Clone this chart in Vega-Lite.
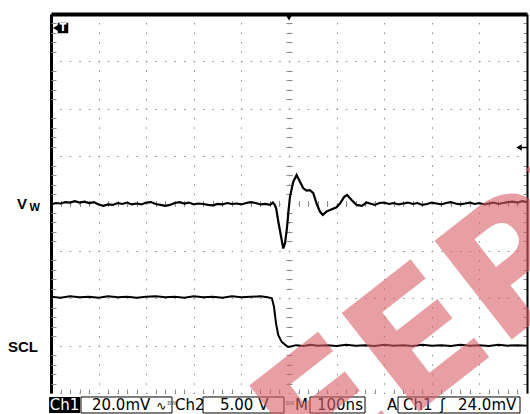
{
  "$schema": "https://vega.github.io/schema/vega-lite/v6.json",
  "width": 476,
  "height": 379,
  "autosize": {"type": "none"},
  "padding": {"left": 51, "top": 14, "right": 3, "bottom": 21},
  "background": "white",
  "config": {"view": {"stroke": null}},
  "datasets": {
    "vw": [
      {"t": -500, "v": -0.02}, {"t": -490, "v": 0.01}, {"t": -480, "v": 0.0}, {"t": -470, "v": 0.03}, {"t": -460, "v": 0.02},
      {"t": -450, "v": 0.05}, {"t": -440, "v": 0.02}, {"t": -430, "v": 0.04}, {"t": -420, "v": 0.01}, {"t": -410, "v": 0.03},
      {"t": -400, "v": -0.02}, {"t": -390, "v": -0.05}, {"t": -380, "v": -0.02}, {"t": -370, "v": -0.03}, {"t": -360, "v": 0.01},
      {"t": -350, "v": -0.01}, {"t": -340, "v": 0.02}, {"t": -330, "v": -0.02}, {"t": -320, "v": 0.0}, {"t": -310, "v": -0.02},
      {"t": -300, "v": 0.02}, {"t": -290, "v": 0.03}, {"t": -280, "v": -0.01}, {"t": -270, "v": -0.03}, {"t": -260, "v": -0.05},
      {"t": -250, "v": -0.03}, {"t": -240, "v": 0.01}, {"t": -230, "v": 0.03}, {"t": -220, "v": 0.0}, {"t": -210, "v": 0.02},
      {"t": -200, "v": -0.02}, {"t": -190, "v": 0.0}, {"t": -180, "v": -0.01}, {"t": -170, "v": -0.03}, {"t": -160, "v": -0.04},
      {"t": -150, "v": -0.01}, {"t": -140, "v": -0.02}, {"t": -130, "v": 0.01}, {"t": -120, "v": -0.01}, {"t": -110, "v": 0.0},
      {"t": -100, "v": -0.02}, {"t": -90, "v": 0.01}, {"t": -80, "v": 0.03}, {"t": -70, "v": 0.01}, {"t": -60, "v": -0.02},
      {"t": -50, "v": -0.01}, {"t": -40, "v": -0.03}, {"t": -34, "v": 0.02}, {"t": -30, "v": -0.03}, {"t": -27, "v": -0.1},
      {"t": -22.5, "v": -0.38}, {"t": -17.4, "v": -0.66}, {"t": -12, "v": -0.95}, {"t": -8.4, "v": -0.84}, {"t": -4.8, "v": -0.56},
      {"t": -2.7, "v": -0.35}, {"t": -1.5, "v": -0.2}, {"t": 2, "v": 0.14}, {"t": 9, "v": 0.46}, {"t": 16, "v": 0.6},
      {"t": 23, "v": 0.46}, {"t": 30, "v": 0.32}, {"t": 37, "v": 0.27}, {"t": 44, "v": 0.28}, {"t": 51, "v": 0.22},
      {"t": 58, "v": 0.0}, {"t": 65, "v": -0.17}, {"t": 71, "v": -0.24}, {"t": 79, "v": -0.17}, {"t": 90, "v": -0.12},
      {"t": 100, "v": -0.08}, {"t": 107, "v": 0.0}, {"t": 116, "v": 0.14}, {"t": 122, "v": 0.18}, {"t": 132, "v": 0.07},
      {"t": 142, "v": -0.03}, {"t": 153, "v": -0.05}, {"t": 163, "v": 0.02}, {"t": 170, "v": 0.0}, {"t": 180, "v": -0.03},
      {"t": 190, "v": 0.01}, {"t": 200, "v": 0.02}, {"t": 210, "v": -0.01}, {"t": 220, "v": 0.01}, {"t": 230, "v": -0.02},
      {"t": 240, "v": 0.0}, {"t": 250, "v": 0.02}, {"t": 260, "v": -0.01}, {"t": 270, "v": 0.01}, {"t": 280, "v": -0.03},
      {"t": 290, "v": -0.01}, {"t": 300, "v": 0.02}, {"t": 310, "v": 0.0}, {"t": 320, "v": -0.02}, {"t": 330, "v": 0.01},
      {"t": 340, "v": 0.03}, {"t": 350, "v": 0.0}, {"t": 360, "v": -0.02}, {"t": 370, "v": 0.0}, {"t": 380, "v": 0.02},
      {"t": 390, "v": -0.01}, {"t": 400, "v": 0.01}, {"t": 410, "v": -0.02}, {"t": 420, "v": 0.0}, {"t": 430, "v": 0.02},
      {"t": 440, "v": -0.01}, {"t": 450, "v": 0.01}, {"t": 460, "v": 0.03}, {"t": 470, "v": 0.04}, {"t": 480, "v": 0.02},
      {"t": 490, "v": 0.05}, {"t": 500, "v": 0.03}
    ],
    "scl": [
      {"t": -500, "v": -1.97}, {"t": -480, "v": -1.99}, {"t": -460, "v": -1.96}, {"t": -440, "v": -1.98}, {"t": -420, "v": -1.97},
      {"t": -400, "v": -1.99}, {"t": -380, "v": -1.96}, {"t": -360, "v": -1.98}, {"t": -340, "v": -1.97}, {"t": -320, "v": -1.99},
      {"t": -300, "v": -1.97}, {"t": -280, "v": -1.96}, {"t": -260, "v": -1.98}, {"t": -240, "v": -1.97}, {"t": -220, "v": -1.99},
      {"t": -200, "v": -1.96}, {"t": -180, "v": -1.98}, {"t": -160, "v": -1.97}, {"t": -140, "v": -1.99}, {"t": -120, "v": -1.96},
      {"t": -100, "v": -1.98}, {"t": -80, "v": -1.97}, {"t": -60, "v": -1.96}, {"t": -45, "v": -1.98}, {"t": -36, "v": -2.0},
      {"t": -31.5, "v": -2.18}, {"t": -27.3, "v": -2.53}, {"t": -22.5, "v": -2.78}, {"t": -15.3, "v": -2.92}, {"t": -8, "v": -2.98},
      {"t": -2, "v": -3.03}, {"t": 4, "v": -3.02}, {"t": 15, "v": -2.99}, {"t": 30, "v": -3.01}, {"t": 45, "v": -2.98},
      {"t": 60, "v": -3.0}, {"t": 80, "v": -2.99}, {"t": 100, "v": -3.01}, {"t": 120, "v": -2.98}, {"t": 140, "v": -3.0},
      {"t": 160, "v": -2.99}, {"t": 180, "v": -3.01}, {"t": 200, "v": -2.98}, {"t": 220, "v": -3.0}, {"t": 240, "v": -2.99},
      {"t": 260, "v": -3.01}, {"t": 280, "v": -2.98}, {"t": 300, "v": -3.0}, {"t": 320, "v": -2.99}, {"t": 340, "v": -3.01},
      {"t": 360, "v": -2.98}, {"t": 380, "v": -3.0}, {"t": 400, "v": -2.99}, {"t": 420, "v": -3.01}, {"t": 440, "v": -2.98},
      {"t": 460, "v": -3.0}, {"t": 480, "v": -2.99}, {"t": 500, "v": -3.0}
    ]
  },
  "resolve": {"axis": {"x": "independent", "y": "independent"}},
  "layer": [
    {
      "data": {"name": "vw"},
      "mark": {"type": "line", "color": "black", "strokeWidth": 2.2},
      "encoding": {
        "x": {"field": "t", "type": "quantitative",
          "scale": {"domain": [-500, 500], "nice": false, "zero": false},
          "axis": {"orient": "top", "values": [-500, -400, -300, -200, -100, 0, 100, 200, 300, 400, 500],
            "grid": true, "gridColor": "#8c8c8c", "gridDash": [1.5, 7.98], "gridDashOffset": 0.75, "gridWidth": 1,
            "domain": true, "domainColor": "black", "domainWidth": 4, "ticks": false, "labels": false, "title": null}},
        "y": {"field": "v", "type": "quantitative",
          "scale": {"domain": [-4, 4], "nice": false, "zero": false},
          "axis": {"orient": "left", "values": [-4, -3, -2, -1, 0, 1, 2, 3, 4],
            "grid": true, "gridColor": "#8c8c8c", "gridDash": [1.5, 8.02], "gridDashOffset": 0.75, "gridWidth": 1,
            "domain": true, "domainColor": "black", "domainWidth": 3, "ticks": false, "labels": false, "title": null}}
      }
    },
    {
      "data": {"name": "scl"},
      "mark": {"type": "line", "color": "black", "strokeWidth": 2},
      "encoding": {
        "x": {"field": "t", "type": "quantitative",
          "axis": {"orient": "bottom", "values": [-480, -460, -440, -420, -380, -360, -340, -320, -280, -260, -240, -220, -180, -160, -140, -120, -80, -60, -40, -20, 20, 40, 60, 80, 120, 140, 160, 180, 220, 240, 260, 280, 320, 340, 360, 380, 420, 440, 460, 480],
            "grid": false, "domain": false, "ticks": true, "tickSize": -4, "tickColor": "#8c8c8c", "tickWidth": 1, "labels": false, "title": null}},
        "y": {"field": "v", "type": "quantitative",
          "axis": {"orient": "right", "values": [-3.8, -3.6, -3.4, -3.2, -2.8, -2.6, -2.4, -2.2, -1.8, -1.6, -1.4, -1.2, -0.8, -0.6, -0.4, -0.2, 0.2, 0.4, 0.6, 0.8, 1.2, 1.4, 1.6, 1.8, 2.2, 2.4, 2.6, 2.8, 3.2, 3.4, 3.6, 3.8],
            "grid": false, "domain": true, "domainColor": "black", "domainWidth": 2, "ticks": true, "tickSize": -4, "tickColor": "#8c8c8c", "labels": false, "title": null}}
      }
    },
    {
      "data": {"values": [{}]},
      "mark": {"type": "point", "opacity": 0},
      "encoding": {
        "x": {"datum": 0, "axis": {"orient": "bottom", "offset": -186.5, "values": [-480, -460, -440, -420, -380, -360, -340, -320, -280, -260, -240, -220, -180, -160, -140, -120, -80, -60, -40, -20, 20, 40, 60, 80, 120, 140, 160, 180, 220, 240, 260, 280, 320, 340, 360, 380, 420, 440, 460, 480],
            "grid": false, "domain": false, "ticks": true, "tickSize": -6, "tickColor": "#8c8c8c", "tickWidth": 1, "labels": false, "title": null}},
        "y": {"datum": 0, "axis": {"orient": "left", "offset": -235, "values": [-3.8, -3.6, -3.4, -3.2, -2.8, -2.6, -2.4, -2.2, -1.8, -1.6, -1.4, -1.2, -0.8, -0.6, -0.4, -0.2, 0.2, 0.4, 0.6, 0.8, 1.2, 1.4, 1.6, 1.8, 2.2, 2.4, 2.6, 2.8, 3.2, 3.4, 3.6, 3.8],
            "grid": false, "domain": false, "ticks": true, "tickSize": -6, "tickColor": "#8c8c8c", "tickWidth": 1, "labels": false, "title": null}}
      }
    },
    {
      "data": {"values": [{}]},
      "mark": {"type": "point", "opacity": 0},
      "encoding": {
        "x": {"datum": 0, "axis": null},
        "y": {"datum": 0, "axis": {"orient": "left", "values": [-3.8, -3.6, -3.4, -3.2, -2.8, -2.6, -2.4, -2.2, -1.8, -1.6, -1.4, -1.2, -0.8, -0.6, -0.4, -0.2, 0.2, 0.4, 0.6, 0.8, 1.2, 1.4, 1.6, 1.8, 2.2, 2.4, 2.6, 2.8, 3.2, 3.4, 3.6, 3.8],
            "grid": false, "domain": false, "ticks": true, "tickSize": -5, "tickColor": "#8c8c8c", "tickWidth": 1, "labels": false, "title": null}}
      }
    },
    {
      "data": {"values": [{}]},
      "mark": {"type": "rect", "color": "black"},
      "encoding": {"x": {"datum": -504, "axis": null}, "x2": {"datum": -439}, "y": {"datum": -4.084, "axis": null}, "y2": {"datum": -4.422}}
    },
    {
      "data": {"values": [{}]},
      "mark": {"type": "rect", "fill": "white", "stroke": "black", "strokeWidth": 1},
      "encoding": {"x": {"datum": -437, "axis": null}, "x2": {"datum": -245.8}, "y": {"datum": -4.084, "axis": null}, "y2": {"datum": -4.422}}
    },
    {
      "data": {"values": [{}]},
      "mark": {"type": "rect", "fill": "white", "stroke": "black", "strokeWidth": 1},
      "encoding": {"x": {"datum": -180.7, "axis": null}, "x2": {"datum": -10.5}, "y": {"datum": -4.084, "axis": null}, "y2": {"datum": -4.422}}
    },
    {
      "data": {"values": [{}]},
      "mark": {"type": "rect", "fill": "white", "stroke": "black", "strokeWidth": 1},
      "encoding": {"x": {"datum": 44.1, "axis": null}, "x2": {"datum": 159.7}, "y": {"datum": -4.084, "axis": null}, "y2": {"datum": -4.422}}
    },
    {
      "data": {"values": [{}]},
      "mark": {"type": "rect", "fill": "white", "stroke": "black", "strokeWidth": 1},
      "encoding": {"x": {"datum": 229, "axis": null}, "x2": {"datum": 485.3}, "y": {"datum": -4.084, "axis": null}, "y2": {"datum": -4.422}}
    },
    {
      "data": {"values": [{"label": "Ch1"}]},
      "mark": {"type": "text", "color": "white", "font": "DejaVu Sans", "fontSize": 15, "align": "center", "baseline": "alphabetic"},
      "encoding": {"x": {"datum": -471.6, "axis": null}, "y": {"datum": -4.359, "axis": null}, "text": {"field": "label"}}
    },
    {
      "data": {"values": [{"label": "20.0mV"}]},
      "mark": {"type": "text", "color": "black", "font": "DejaVu Sans", "fontSize": 15, "align": "left", "baseline": "alphabetic"},
      "encoding": {"x": {"datum": -413.9, "axis": null}, "y": {"datum": -4.359, "axis": null}, "text": {"field": "label"}}
    },
    {
      "data": {"values": [{"label": "∿"}]},
      "mark": {"type": "text", "color": "black", "font": "DejaVu Sans", "fontSize": 12, "align": "left", "baseline": "alphabetic"},
      "encoding": {"x": {"datum": -279, "axis": null}, "y": {"datum": -4.359, "axis": null}, "text": {"field": "label"}}
    },
    {
      "data": {"values": [{"label": "BW"}]},
      "mark": {"type": "text", "color": "#555", "font": "DejaVu Sans", "fontSize": 5.5, "align": "left", "baseline": "alphabetic"},
      "encoding": {"x": {"datum": -256, "axis": null}, "y": {"datum": -4.253, "axis": null}, "text": {"field": "label"}}
    },
    {
      "data": {"values": [{"label": "Ch2"}]},
      "mark": {"type": "text", "color": "black", "font": "DejaVu Sans", "fontSize": 15, "align": "left", "baseline": "alphabetic"},
      "encoding": {"x": {"datum": -239.5, "axis": null}, "y": {"datum": -4.359, "axis": null}, "text": {"field": "label"}}
    },
    {
      "data": {"values": [{"label": "5.00 V"}]},
      "mark": {"type": "text", "color": "black", "font": "DejaVu Sans", "fontSize": 15, "align": "left", "baseline": "alphabetic"},
      "encoding": {"x": {"datum": -145, "axis": null}, "y": {"datum": -4.359, "axis": null}, "text": {"field": "label"}}
    },
    {
      "data": {"values": [{"label": "BW"}]},
      "mark": {"type": "text", "color": "#555", "font": "DejaVu Sans", "fontSize": 5.5, "align": "left", "baseline": "alphabetic"},
      "encoding": {"x": {"datum": -7.4, "axis": null}, "y": {"datum": -4.253, "axis": null}, "text": {"field": "label"}}
    },
    {
      "data": {"values": [{"label": "M"}]},
      "mark": {"type": "text", "color": "black", "font": "DejaVu Sans", "fontSize": 15, "align": "left", "baseline": "alphabetic"},
      "encoding": {"x": {"datum": 12.6, "axis": null}, "y": {"datum": -4.359, "axis": null}, "text": {"field": "label"}}
    },
    {
      "data": {"values": [{"label": "100ns"}]},
      "mark": {"type": "text", "color": "black", "font": "DejaVu Sans", "fontSize": 15, "align": "left", "baseline": "alphabetic"},
      "encoding": {"x": {"datum": 58.8, "axis": null}, "y": {"datum": -4.359, "axis": null}, "text": {"field": "label"}}
    },
    {
      "data": {"values": [{"label": "A"}]},
      "mark": {"type": "text", "color": "black", "font": "DejaVu Sans", "fontSize": 15, "align": "left", "baseline": "alphabetic"},
      "encoding": {"x": {"datum": 206, "axis": null}, "y": {"datum": -4.359, "axis": null}, "text": {"field": "label"}}
    },
    {
      "data": {"values": [{"label": "Ch1"}]},
      "mark": {"type": "text", "color": "black", "font": "DejaVu Sans", "fontSize": 15, "align": "left", "baseline": "alphabetic"},
      "encoding": {"x": {"datum": 239.5, "axis": null}, "y": {"datum": -4.359, "axis": null}, "text": {"field": "label"}}
    },
    {
      "data": {"values": [{"label": "ʃ"}]},
      "mark": {"type": "text", "color": "black", "font": "DejaVu Sans", "fontSize": 15, "align": "left", "baseline": "alphabetic"},
      "encoding": {"x": {"datum": 317.2, "axis": null}, "y": {"datum": -4.359, "axis": null}, "text": {"field": "label"}}
    },
    {
      "data": {"values": [{"label": "24.0mV"}]},
      "mark": {"type": "text", "color": "black", "font": "DejaVu Sans", "fontSize": 15, "align": "left", "baseline": "alphabetic"},
      "encoding": {"x": {"datum": 355, "axis": null}, "y": {"datum": -4.359, "axis": null}, "text": {"field": "label"}}
    },
    {
      "data": {"values": [{"label": "V"}]},
      "mark": {"type": "text", "color": "black", "font": "Liberation Sans", "fontWeight": "bold", "fontSize": 15, "align": "left", "baseline": "alphabetic"},
      "encoding": {"x": {"datum": -571.4, "axis": null}, "y": {"datum": -0.106, "axis": null}, "text": {"field": "label"}}
    },
    {
      "data": {"values": [{"label": "W"}]},
      "mark": {"type": "text", "color": "black", "font": "Liberation Sans", "fontWeight": "bold", "fontSize": 11, "align": "left", "baseline": "alphabetic"},
      "encoding": {"x": {"datum": -545.2, "axis": null}, "y": {"datum": -0.158, "axis": null}, "text": {"field": "label"}}
    },
    {
      "data": {"values": [{"label": "SCL"}]},
      "mark": {"type": "text", "color": "black", "font": "Liberation Sans", "fontWeight": "bold", "fontSize": 15, "align": "left", "baseline": "alphabetic"},
      "encoding": {"x": {"datum": -590.3, "axis": null}, "y": {"datum": -3.128, "axis": null}, "text": {"field": "label"}}
    },
    {
      "data": {"values": [{}]},
      "mark": {"type": "point", "shape": "square", "filled": true, "color": "black", "size": 110, "opacity": 1},
      "encoding": {"x": {"datum": -474.8, "axis": null}, "y": {"datum": 3.704, "axis": null}}
    },
    {
      "data": {"values": [{}]},
      "mark": {"type": "point", "shape": "triangle-left", "filled": true, "color": "black", "size": 50, "opacity": 1},
      "encoding": {"x": {"datum": -489.5, "axis": null}, "y": {"datum": 3.704, "axis": null}}
    },
    {
      "data": {"values": [{"label": "T"}]},
      "mark": {"type": "text", "color": "white", "font": "DejaVu Sans", "fontWeight": "bold", "fontSize": 10, "align": "center", "baseline": "middle"},
      "encoding": {"x": {"datum": -474.8, "axis": null}, "y": {"datum": 3.704, "axis": null}, "text": {"field": "label"}}
    },
    {
      "data": {"values": [{}]},
      "mark": {"type": "point", "shape": "triangle-down", "filled": true, "color": "black", "size": 50, "opacity": 1},
      "encoding": {"x": {"datum": 0, "axis": null}, "y": {"datum": 3.926, "axis": null}}
    },
    {
      "data": {"values": [{}]},
      "mark": {"type": "point", "shape": "triangle-left", "filled": true, "color": "black", "size": 40, "opacity": 1},
      "encoding": {"x": {"datum": 483.2, "axis": null}, "y": {"datum": 1.182, "axis": null}}
    },
    {
      "data": {"values": [{}]},
      "mark": {"type": "rule", "color": "black", "strokeWidth": 1.5},
      "encoding": {"x": {"datum": 483.2, "axis": null}, "x2": {"datum": 500}, "y": {"datum": 1.182, "axis": null}}
    },
    {
      "data": {"values": [{"label": "EEPW"}]},
      "mark": {"type": "text", "color": "#d96169", "opacity": 0.6, "font": "DejaVu Sans", "fontWeight": "bold", "fontSize": 172, "angle": -38, "align": "left", "baseline": "alphabetic"},
      "encoding": {"x": {"datum": 52.5, "axis": null}, "y": {"datum": -6.13, "axis": null}, "text": {"field": "label"}}
    }
  ]
}
